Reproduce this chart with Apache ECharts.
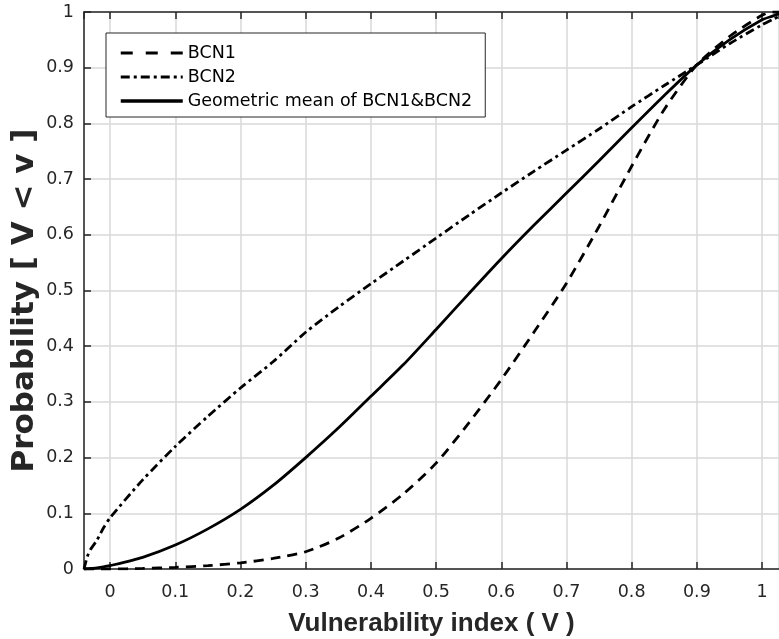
<!DOCTYPE html>
<html>
<head>
<meta charset="utf-8">
<script src="https://cdn.jsdelivr.net/npm/echarts@6/dist/echarts.min.js"></script>
<style>
html,body{margin:0;padding:0;background:#fff;}
#chart{width:779px;height:639px;}
</style>
</head>
<body>
<div id="chart"></div>
<script>
// Vulnerability index values (x)
var vIndex = [-0.04, -0.035, -0.03, -0.02, -0.01, 0, 0.05, 0.1, 0.15, 0.2, 0.25, 0.3, 0.35, 0.4, 0.45, 0.5, 0.55, 0.6, 0.65, 0.7, 0.75, 0.8, 0.85, 0.9, 0.95, 1.0, 1.017, 1.026];
// Probability values per series
var bcn1 = [0, 0, 0, 0, 0, 0, 0.001, 0.003, 0.006, 0.011, 0.019, 0.031, 0.055, 0.091, 0.135, 0.19, 0.262, 0.34, 0.425, 0.513, 0.615, 0.723, 0.825, 0.905, 0.956, 0.994, 1.0, 1.0];
var bcn2 = [0, 0.022, 0.035, 0.052, 0.074, 0.092, 0.16, 0.22, 0.274, 0.325, 0.372, 0.425, 0.47, 0.512, 0.553, 0.594, 0.635, 0.675, 0.714, 0.752, 0.79, 0.83, 0.868, 0.905, 0.943, 0.977, 0.987, 0.992];
var geoMean = [0, 0.0005, 0.001, 0.002, 0.004, 0.006, 0.021, 0.043, 0.072, 0.107, 0.15, 0.2, 0.253, 0.31, 0.367, 0.43, 0.494, 0.557, 0.617, 0.675, 0.733, 0.792, 0.85, 0.905, 0.95, 0.986, 0.993, 0.997];
var seriesNames = ['BCN1', 'BCN2', 'Geometric mean of BCN1&BCN2'];

function pairs(ys) {
  return vIndex.map(function (v, i) { return [v, ys[i]]; });
}

var FONT = 'DejaVu Sans, Arial, sans-serif';
var FONT_T = 'Liberation Sans, Arial, Helvetica, sans-serif';
var TXT = '#262626';
var DASH1 = [10, 7];
var DASH2 = [9, 4, 3, 4];

var chart = echarts.init(document.getElementById('chart'), null, {renderer: 'canvas'});
var option = {
  animation: false,
  backgroundColor: '#ffffff',
  grid: {left: 84, right: 0, top: 12, bottom: 70, containLabel: false, outerBoundsMode: 'none'},
  legend: {
    orient: 'vertical',
    left: 106,
    top: 33,
    padding: [11, 13, 7, 13],
    itemWidth: 62,
    itemHeight: 14,
    itemGap: 6,
    backgroundColor: '#ffffff',
    borderColor: '#262626',
    borderWidth: 1,
    borderRadius: 0,
    itemStyle: {color: 'rgba(0,0,0,0)', borderColor: 'rgba(0,0,0,0)', borderWidth: 0},
    data: [
      {name: seriesNames[0], lineStyle: {type: [12, 13], width: 3}},
      {name: seriesNames[1], lineStyle: {type: DASH2, width: 3}},
      {name: seriesNames[2], lineStyle: {type: 'solid', width: 3.5}}
    ],
    textStyle: {fontFamily: FONT, fontSize: 17.5, color: '#000', lineHeight: 14}
  },
  xAxis: [{
    type: 'value',
    min: -0.04,
    max: 1.026,
    splitNumber: 10,
    position: 'bottom',
    name: 'Vulnerability index ( V )',
    nameLocation: 'middle',
    nameGap: 42,
    nameTextStyle: {fontFamily: FONT_T, fontSize: 26, fontWeight: 'bold', color: TXT},
    axisLine: {show: true, onZero: false, lineStyle: {color: TXT, width: 1.5}},
    axisTick: {show: true, inside: true, length: 7, lineStyle: {color: TXT, width: 1.5}},
    axisLabel: {showMinLabel: false, showMaxLabel: false, margin: 14, fontFamily: FONT, fontSize: 17.5, color: TXT},
    splitLine: {show: true, lineStyle: {color: '#d9d9d9', width: 1.5}}
  }, {
    type: 'value',
    min: -0.04,
    max: 1.026,
    splitNumber: 10,
    position: 'top',
    axisLine: {show: true, onZero: false, lineStyle: {color: TXT, width: 1.5}},
    axisTick: {show: true, inside: true, length: 7, lineStyle: {color: TXT, width: 1.5}},
    axisLabel: {show: false},
    splitLine: {show: false}
  }],
  yAxis: {
    type: 'value',
    min: 0,
    max: 1,
    interval: 0.1,
    name: 'Probability [ V < v ]',
    nameLocation: 'middle',
    nameGap: 44,
    nameMoveOverlap: false,
    nameTextStyle: {fontFamily: FONT, fontSize: 31, fontWeight: 'bold', color: TXT, padding: [0, 20, 0, 0]},
    axisLine: {show: true, onZero: false, lineStyle: {color: TXT, width: 1.5}},
    axisTick: {show: true, inside: true, length: 7, lineStyle: {color: TXT, width: 1.5}},
    axisLabel: {margin: 10, fontFamily: FONT, fontSize: 17.5, color: TXT,
      formatter: function (v) { return String(Math.round(v * 10) / 10); }},
    splitLine: {show: true, lineStyle: {color: '#d9d9d9', width: 1.5}}
  },
  series: [{
    name: seriesNames[0],
    type: 'line',
    smooth: 0.25,
    symbol: 'none',
    data: pairs(bcn1),
    lineStyle: {color: '#000', width: 2.8, type: DASH1},
    itemStyle: {color: '#000'},
    z: 3
  }, {
    name: seriesNames[1],
    type: 'line',
    smooth: 0.25,
    symbol: 'none',
    data: pairs(bcn2),
    lineStyle: {color: '#000', width: 2.8, type: DASH2},
    itemStyle: {color: '#000'},
    z: 3
  }, {
    name: seriesNames[2],
    type: 'line',
    smooth: 0.25,
    symbol: 'none',
    data: pairs(geoMean),
    lineStyle: {color: '#000', width: 2.8, type: 'solid'},
    itemStyle: {color: '#000'},
    z: 3
  }]
};
chart.setOption(option);
</script>
</body>
</html>
